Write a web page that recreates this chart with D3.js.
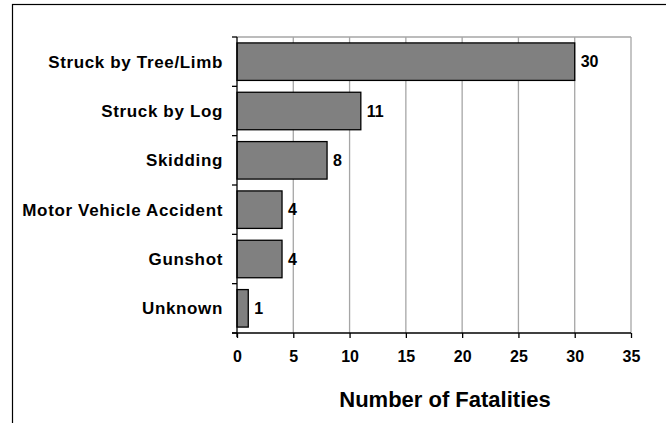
<!DOCTYPE html>
<html>
<head>
<meta charset="utf-8">
<script src="https://cdn.jsdelivr.net/npm/d3@7"></script>
<style>
  body { margin: 0; background: #fff; }
  text { font-family: "Liberation Sans", Arial, sans-serif; font-weight: bold; }
</style>
</head>
<body>
<div id="chart"></div>
<script>
// categories and values, top to bottom
var categories = ["Struck by Tree/Limb", "Struck by Log", "Skidding", "Motor Vehicle Accident", "Gunshot", "Unknown"];
var values = [30, 11, 8, 4, 4, 1];
var xticks = [0, 5, 10, 15, 20, 25, 30, 35];
var xtitle = "Number of Fatalities";

const W = 666, H = 423;
const margin = {top: 37, right: 35, bottom: 90, left: 237};
const width = W - margin.left - margin.right;   // 394
const height = H - margin.top - margin.bottom;  // 296

var svg = d3.select("#chart").append("svg")
    .attr("width", W).attr("height", H);

// outer border (right/bottom fall outside the picture)
svg.append("rect")
    .attr("x", 12.5).attr("y", 4.5)
    .attr("width", 700).attr("height", 460)
    .attr("fill", "none").attr("stroke", "#000").attr("stroke-width", 1.2);

var g = svg.append("g").attr("transform", `translate(${margin.left},${margin.top})`);

var x = d3.scaleLinear().domain([0, 35]).range([0, width]);
var y = d3.scaleBand().domain(categories).range([0, height]).paddingInner(0.24).paddingOuter(0.12);

// gridlines
g.selectAll(".grid").data(xticks.slice(1)).enter().append("line")
    .attr("x1", d => x(d)).attr("x2", d => x(d))
    .attr("y1", 0).attr("y2", height)
    .attr("stroke", "#a6a6a6").attr("stroke-width", 1.3);
g.append("line")
    .attr("x1", 0).attr("x2", width).attr("y1", 0).attr("y2", 0)
    .attr("stroke", "#a6a6a6").attr("stroke-width", 1.3);

// bars
g.selectAll(".bar").data(values).enter().append("rect")
    .attr("x", x(0))
    .attr("y", (d, i) => y(categories[i]))
    .attr("width", d => x(d) - x(0))
    .attr("height", y.bandwidth())
    .attr("fill", "#808080")
    .attr("stroke", "#000").attr("stroke-width", 1.3);

// value labels
g.selectAll(".val").data(values).enter().append("text")
    .attr("x", d => x(d) + 6)
    .attr("y", (d, i) => y(categories[i]) + y.bandwidth() / 2)
    .attr("dy", "0.36em")
    .attr("font-size", 16)
    .text(d => d);

// y axis: line, band-boundary ticks, category labels
g.append("line").attr("x1", 0).attr("x2", 0).attr("y1", 0).attr("y2", height + 4)
    .attr("stroke", "#000").attr("stroke-width", 1.3);
var bounds = d3.range(categories.length + 1).map(i => i * height / categories.length);
g.selectAll(".ytick").data(bounds).enter().append("line")
    .attr("x1", -5).attr("x2", 0).attr("y1", d => d).attr("y2", d => d)
    .attr("stroke", "#000").attr("stroke-width", 1.3);
g.selectAll(".ylab").data(categories).enter().append("text")
    .attr("x", -14)
    .attr("y", d => y(d) + y.bandwidth() / 2)
    .attr("dy", "0.36em")
    .attr("text-anchor", "end")
    .attr("font-size", 17)
    .attr("letter-spacing", 0.65)
    .text(d => d);

// x axis
var xaxis = d3.axisBottom(x).tickValues(xticks).tickSize(5).tickPadding(13);
var xa = g.append("g").attr("transform", `translate(0,${height})`).call(xaxis);
xa.select(".domain").attr("stroke", "#000").attr("stroke-width", 1.3).attr("d", `M-5,0H${width}`);
xa.selectAll(".tick line").attr("stroke", "#000").attr("stroke-width", 1.3);
xa.selectAll(".tick text").attr("font-size", 16).attr("fill", "#000")
    .attr("font-family", "Liberation Sans, Arial, sans-serif").attr("font-weight", "bold");

// x title
g.append("text")
    .attr("x", width / 2 + 11)
    .attr("y", height + 74)
    .attr("text-anchor", "middle")
    .attr("font-size", 22)
    .text(xtitle);
</script>
</body>
</html>
